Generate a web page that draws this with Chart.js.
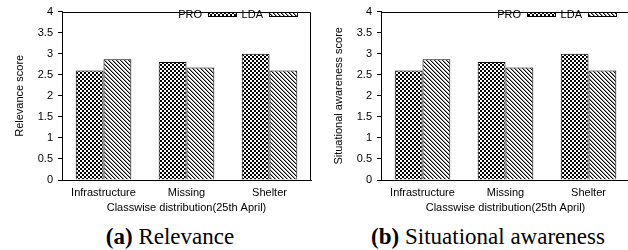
<!DOCTYPE html>
<html>
<head>
<meta charset="utf-8">
<script src="https://cdn.jsdelivr.net/npm/chart.js@4"></script>
<style>
  body { margin: 0; width: 628px; height: 250px; overflow: hidden; background: #fff; position: relative; }
  canvas { position: absolute; top: 0; }
  #relevance { left: 0; }
  #awareness { left: 314px; }
  .cap { position: absolute; top: 225px; font-family: "Liberation Serif", "Times New Roman", serif;
         font-size: 23px; line-height: 23px; white-space: nowrap; text-align: center; color: #000; }
</style>
</head>
<body>
<canvas id="relevance" width="314" height="219"></canvas>
<canvas id="awareness" width="320" height="219"></canvas>
<div class="cap" style="left:0;width:340px"><b>(a)</b> Relevance</div>
<div class="cap" style="left:338px;width:300px"><b>(b)</b> Situational awareness</div>
<script>
const categories = ['Infrastructure', 'Missing', 'Shelter'];
const seriesNames = ['PRO', 'LDA'];
const proRelevance = [2.6, 2.8, 3.0];
const ldaRelevance = [2.87, 2.67, 2.6];
const proAwareness = [2.6, 2.8, 3.0];
const ldaAwareness = [2.87, 2.67, 2.6];
const xTitle = 'Classwise distribution(25th April)';

Chart.defaults.font.family = '"Liberation Sans", Arial, sans-serif';
Chart.defaults.font.size = 11;
Chart.defaults.color = '#000';

// small tiles for the gnuplot-like fills
function checkerPattern() {
  const c = document.createElement('canvas');
  c.width = 4; c.height = 4;
  const g = c.getContext('2d');
  g.fillStyle = '#fff'; g.fillRect(0, 0, 4, 4);
  g.fillStyle = '#000';
  g.fillRect(0, 0, 2, 2);
  g.fillRect(2, 2, 2, 2);
  return g.createPattern(c, 'repeat');
}

function diagPattern() {
  const c = document.createElement('canvas');
  c.width = 4; c.height = 4;
  const g = c.getContext('2d');
  g.fillStyle = '#fff'; g.fillRect(0, 0, 4, 4);
  for (let i = 0; i < 4; i++) {
    g.fillStyle = '#000';
    g.fillRect(i, i, 1, 1);
    g.fillStyle = '#999';
    g.fillRect((i + 1) % 4, i, 1, 1);
  }
  return g.createPattern(c, 'repeat');
}

const framePlugin = {
  id: 'frame',
  afterDraw(chart) {
    const {ctx, chartArea: a} = chart;
    ctx.save();
    ctx.strokeStyle = '#000';
    ctx.lineWidth = 1;
    const t = Math.round(a.top) + 0.5;
    const r = Math.round(a.right) - 0.5;
    ctx.beginPath();
    ctx.moveTo(a.left, t);
    ctx.lineTo(r, t);
    ctx.lineTo(r, a.bottom);
    ctx.stroke();

    // legend: label then swatch, anchored top right
    ctx.font = '11px "Liberation Sans", Arial, sans-serif';
    ctx.textAlign = 'right';
    ctx.textBaseline = 'middle';
    let x = Math.round(a.right) - 13;
    const sets = chart.data.datasets;
    for (let i = sets.length - 1; i >= 0; i--) {
      ctx.fillStyle = sets[i].backgroundColor;
      ctx.fillRect(x - 29, 12, 29, 5);
      ctx.strokeRect(x - 28.5, 12.5, 28, 4);
      ctx.fillStyle = '#000';
      const tx = x - 35;
      ctx.fillText(sets[i].label, tx, 15);
      x = Math.round(tx - ctx.measureText(sets[i].label).width - 5);
    }
    ctx.restore();
  }
};

function makeChart(id, yTitle, pro, lda, axisWidth, titlePad, rightPad) {
  return new Chart(document.getElementById(id).getContext('2d'), {
    type: 'bar',
    data: {
      labels: categories,
      datasets: [
        {label: seriesNames[0], data: pro, backgroundColor: checkerPattern(),
         borderColor: '#000', borderWidth: 1},
        {label: seriesNames[1], data: lda, backgroundColor: diagPattern(),
         borderColor: '#000', borderWidth: 1}
      ]
    },
    options: {
      responsive: false,
      animation: false,
      layout: {padding: {left: 0, right: rightPad, top: 7, bottom: 0}},
      categoryPercentage: 0.67,
      barPercentage: 1,
      plugins: {legend: {display: false}, tooltip: {enabled: false}},
      scales: {
        x: {
          grid: {display: false, drawTicks: false},
          border: {display: true, color: '#000', width: 1},
          ticks: {padding: 6, maxRotation: 0},
          title: {display: true, text: xTitle, padding: {top: 0, bottom: 4}},
          afterFit(scale) { scale.height = 39; }
        },
        y: {
          min: 0,
          max: 4,
          ticks: {stepSize: 0.5, padding: 5, callback: v => String(v)},
          grid: {drawOnChartArea: false, drawTicks: true, tickLength: 4, color: '#000'},
          border: {display: true, color: '#000', width: 1},
          title: {display: true, text: yTitle, padding: {top: titlePad, bottom: 0}},
          afterFit(scale) { scale.width = axisWidth; }
        }
      }
    },
    plugins: [framePlugin]
  });
}

makeChart('relevance', 'Relevance score', proRelevance, ldaRelevance, 62, 13.4, 3);
makeChart('awareness', 'Situational awareness score', proAwareness, ldaAwareness, 67, 18.4, 4);
</script>
</body>
</html>
